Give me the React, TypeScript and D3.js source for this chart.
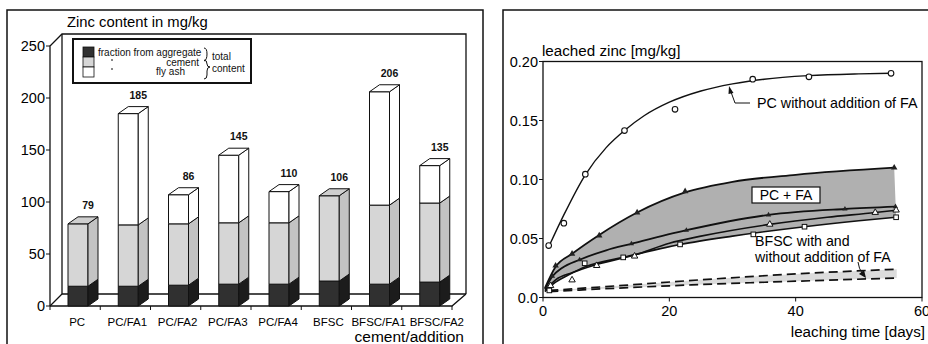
import React from 'react';
import * as d3 from 'd3';

// left chart: zinc content per cement / addition (mg/kg)
const categories = ['PC', 'PC/FA1', 'PC/FA2', 'PC/FA3', 'PC/FA4', 'BFSC', 'BFSC/FA1', 'BFSC/FA2'];
const aggregate = [19, 19, 20, 21, 21, 24, 21, 23];
const cement = [60, 59, 59, 59, 59, 82, 76, 76];
const flyAsh = [0, 107, 28, 65, 30, 0, 109, 36];
const totalLabels = ['79', '185', '86', '145', '110', '106', '206', '135'];
const zincTicks = [0, 50, 100, 150, 200, 250];

// right chart: leached zinc [mg/kg] vs leaching time [days]
type Pt = [number, number];
const pcCurve: Pt[] = [[1, 0.044], [3.3, 0.07], [6.7, 0.104], [10, 0.127], [12.9, 0.1415], [16, 0.154], [20, 0.1655], [25, 0.175], [30, 0.181], [35, 0.185], [42, 0.188], [50, 0.1895], [55.1, 0.19]];
const pcPoints: Pt[] = [[0.9, 0.044], [3.3, 0.063], [6.7, 0.1045], [12.9, 0.1415], [20.9, 0.1595], [33.2, 0.185], [42.1, 0.187], [55.1, 0.19]];
const fa1Curve: Pt[] = [[0.3, 0.008], [2, 0.026], [4.6, 0.037], [8.9, 0.053], [14.9, 0.072], [22.5, 0.089], [30, 0.098], [40, 0.104], [55.6, 0.11]];
const fa1Points: Pt[] = [[2, 0.027], [4.6, 0.037], [8.9, 0.0525], [14.9, 0.072], [22.5, 0.09], [55.6, 0.11]];
const fa2Curve: Pt[] = [[0.3, 0.007], [1.5, 0.018], [3, 0.025], [5.8, 0.032], [10, 0.04], [14, 0.0455], [22.7, 0.057], [35.7, 0.07], [47.8, 0.075], [55.8, 0.077]];
const fa2Points: Pt[] = [[1.5, 0.018], [5.8, 0.032], [14, 0.0455], [22.7, 0.057], [35.7, 0.07], [47.8, 0.075], [55.8, 0.077]];
const fa3Curve: Pt[] = [[0.3, 0.006], [2, 0.015], [4.6, 0.021], [8.5, 0.028], [14.5, 0.036], [20, 0.046], [25, 0.052], [35.9, 0.062], [45, 0.068], [52.6, 0.072], [55.9, 0.074]];
const fa3Points: Pt[] = [[1.2, 0.01], [4.6, 0.0148], [8.5, 0.027], [14.5, 0.035], [35.9, 0.062], [52.6, 0.072], [55.9, 0.074]];
const fa4Curve: Pt[] = [[0.3, 0.005], [2, 0.013], [4, 0.019], [6.7, 0.026], [12.7, 0.034], [21.8, 0.045], [30, 0.052], [41.4, 0.06], [50, 0.065], [55.9, 0.068]];
const fa4Points: Pt[] = [[1, 0.006], [6.6, 0.029], [12.7, 0.034], [21.7, 0.045], [33.3, 0.0535], [41.4, 0.06], [55.9, 0.068]];
const bfscUpper: Pt[] = [[1, 0.006], [12, 0.01], [25, 0.015], [40, 0.02], [56, 0.024]];
const bfscLower: Pt[] = [[1, 0.005], [12, 0.008], [25, 0.011], [40, 0.0138], [56, 0.0165]];
const leachTicks = [0, 0.05, 0.1, 0.15, 0.2];
const leachTickLabels = ['0.0', '0.05', '0.10', '0.15', '0.20'];
const dayTicks = [0, 20, 40, 60];

const FONT = 'Liberation Sans, Arial, Helvetica, sans-serif';

const segFill: Record<string, [string, string]> = {
  aggregate: ['#303030', '#1c1c1c'],
  cement: ['#d6d6d6', '#c3c3c3'],
  flyAsh: ['#fff', '#fff'],
};

function BarPanel() {
  const x = d3.scaleBand().domain(categories).range([50, 452]);
  const y = d3.scaleLinear().domain([0, 250]).range([306, 46]);
  const wdx = 12, wdy = -12; // back wall offset
  const bdx = 10, bdy = -7; // bar depth
  const barW = 20;
  const keys = ['aggregate', 'cement', 'flyAsh'];
  const rows = categories.map((c, i) => ({ cat: c, aggregate: aggregate[i], cement: cement[i], flyAsh: flyAsh[i] }));
  const series = d3.stack<any>().keys(keys)(rows);
  const x0 = x.range()[0], x1 = x.range()[1];
  const yTop = y(250), yBase = y(0);

  // category labels: centred under bars, pushed apart when they would touch
  const catSize = 11.5;
  let prevRight = -Infinity;
  const catPos = categories.map(c => {
    const w = c.length * catSize * 0.6;
    let cx = (x(c) as number) + x.bandwidth() / 2 + 2;
    if (cx - w / 2 < prevRight + 3) cx = prevRight + 3 + w / 2;
    prevRight = cx + w / 2;
    return cx;
  });

  return (
    <g fontFamily={FONT}>
      <rect x={7} y={10} width={476} height={345} fill="none" stroke="#111" strokeWidth={1.5} />
      <text x={67} y={27} fontSize={14.8}>Zinc content in mg/kg</text>

      {/* 3d frame */}
      <g fill="none" stroke="#111" strokeWidth={1.3}>
        <path d={`M${x0},${yBase}V${yTop}L${x0 + wdx},${yTop + wdy}H${x1 + wdx + 2}V${yBase + wdy}`} />
        <path d={`M${x0 + wdx},${yTop + wdy}V${yBase + wdy}H${x1 + wdx + 2}`} />
        <path d={`M${x0},${yBase}L${x0 + wdx},${yBase + wdy}`} />
        <path d={`M${x0},${yBase}H${x1}L${x1 + wdx + 2},${yBase + wdy}`} />
      </g>
      {zincTicks.map(t => (
        <g key={t}>
          <line x1={x0 - 4} x2={x0} y1={y(t)} y2={y(t)} stroke="#111" />
          <text x={x0 - 5} y={y(t)} dy="0.35em" textAnchor="end" fontSize={14.5}>{t}</text>
        </g>
      ))}
      {d3.range(categories.length + 1).map(i => (
        <line key={i} x1={x0 + i * x.step()} x2={x0 + i * x.step()} y1={yBase} y2={yBase + 4} stroke="#111" />
      ))}

      {/* bars */}
      {categories.map((c, i) => {
        const bx = (x(c) as number) + 18;
        const segs = series.filter(s => s[i][1] - s[i][0] > 0);
        const topKey = segs[segs.length - 1].key;
        const yt = y(segs[segs.length - 1][i][1]);
        return (
          <g key={c} stroke="#111" strokeWidth={1} strokeLinejoin="round">
            {segs.map(s => {
              const ya = y(s[i][1]), yb = y(s[i][0]);
              const [front, side] = segFill[s.key];
              return (
                <g key={s.key}>
                  <rect x={bx} y={ya} width={barW} height={yb - ya} fill={front} />
                  <polygon points={`${bx + barW},${ya} ${bx + barW + bdx},${ya + bdy} ${bx + barW + bdx},${yb + bdy} ${bx + barW},${yb}`} fill={side} />
                </g>
              );
            })}
            <polygon points={`${bx},${yt} ${bx + bdx},${yt + bdy} ${bx + barW + bdx},${yt + bdy} ${bx + barW},${yt}`} fill={topKey === 'flyAsh' ? '#fff' : '#cfcfcf'} />
            <text x={bx + barW} y={y(aggregate[i] + cement[i] + flyAsh[i]) - 18.5} dy="0.35em" textAnchor="middle" fontSize={10.5} fontWeight="bold" stroke="none" fill="#111">{totalLabels[i]}</text>
          </g>
        );
      })}

      {categories.map((c, i) => (
        <text key={c} x={catPos[i]} y={326} textAnchor="middle" fontSize={catSize}>{c}</text>
      ))}
      <text x={464} y={342} textAnchor="end" fontSize={15.5}>cement/addition</text>

      {/* legend */}
      <rect x={73} y={39} width={178} height={44} fill="#fff" stroke="#111" strokeWidth={2} />
      {keys.map((k, i) => (
        <rect key={k} x={83} y={47 + i * 10} width={11} height={10} fill={segFill[k][0]} stroke="#111" strokeWidth={0.8} />
      ))}
      <g fontSize={10} fill="#111">
        <text x={98} y={52.5} dy="0.35em">fraction from aggregate</text>
        <line x1={111} x2={113} y1={60} y2={60} stroke="#111" strokeWidth={1} />
        <line x1={111} x2={113} y1={69} y2={69} stroke="#111" strokeWidth={1} />
        <text x={199} y={62} dy="0.35em" textAnchor="end">cement</text>
        <text x={185} y={71.5} dy="0.35em" textAnchor="end">fly ash</text>
        <text x={212} y={56} dy="0.35em">total</text>
        <text x={212} y={68} dy="0.35em">content</text>
      </g>
      <g fill="none" stroke="#111" strokeWidth={1}>
        <path d="M204,48 Q207,48 207,54 Q207,60 204,61" />
        <path d="M204,60 Q207,60 207,64 Q207,67 210,67 Q207,67 207,71 L207,75 Q207,79 204,79" />
      </g>
    </g>
  );
}

function LeachPanel() {
  const x = d3.scaleLinear().domain([0, 60]).range([543, 922]);
  const y = d3.scaleLinear().domain([0, 0.2]).range([297.5, 61.5]);
  const line = d3.line<Pt>().x(d => x(d[0])).y(d => y(d[1])).curve(d3.curveMonotoneX);
  const band = (up: Pt[], lo: Pt[]) => `${line(up)}L${(line([...lo].reverse()) as string).slice(1)}Z`;
  const tri = d3.symbol(d3.symbolTriangle, 18)() as string;
  const triSmall = d3.symbol(d3.symbolTriangle, 12)() as string;
  const [xa, xb] = x.range();
  const [ya, yb] = y.range();

  return (
    <g fontFamily={FONT}>
      <rect x={503} y={10} width={440} height={345} fill="none" stroke="#111" strokeWidth={1.5} />
      <text x={542} y={56} fontSize={15.2}>leached zinc [mg/kg]</text>

      {/* shaded bands */}
      <path d={band(fa1Curve, fa4Curve)} fill="#b0b0b0" />
      <path d={band(bfscUpper, bfscLower)} fill="#dcdcdc" />

      <rect x={xa} y={yb} width={xb - xa} height={ya - yb} fill="none" stroke="#111" strokeWidth={1.3} />
      {leachTicks.map((t, i) => (
        <g key={t}>
          <line x1={xa - 4} x2={xa} y1={y(t)} y2={y(t)} stroke="#111" />
          <text x={xa - 5} y={y(t)} dy="0.35em" textAnchor="end" fontSize={14.5}>{leachTickLabels[i]}</text>
        </g>
      ))}
      {dayTicks.map(t => (
        <g key={t}>
          <line x1={x(t)} x2={x(t)} y1={ya} y2={ya + 4} stroke="#111" />
          <text x={x(t)} y={316} textAnchor="middle" fontSize={14.5}>{t}</text>
        </g>
      ))}
      <text x={925} y={337} textAnchor="end" fontSize={15.2}>leaching time [days]</text>

      <g fill="none" stroke="#111">
        <path d={line(pcCurve) as string} strokeWidth={1.4} />
        <path d={line(fa1Curve) as string} strokeWidth={1.8} />
        <path d={line(fa2Curve) as string} strokeWidth={1.8} />
        <path d={line(fa3Curve) as string} strokeWidth={1.6} />
        <path d={line(fa4Curve) as string} strokeWidth={1.6} />
        <path d={line(bfscUpper) as string} strokeWidth={1.7} strokeDasharray="9,5" />
        <path d={line(bfscLower) as string} strokeWidth={1.7} strokeDasharray="9,5" />
      </g>

      {/* markers */}
      {pcPoints.map((d, i) => (
        <circle key={'pc' + i} cx={x(d[0])} cy={y(d[1])} r={2.8} fill="#fff" stroke="#111" strokeWidth={1.1} />
      ))}
      {fa1Points.map((d, i) => (
        <path key={'a' + i} d={tri} transform={`translate(${x(d[0])},${y(d[1])})`} fill="#222" />
      ))}
      {fa2Points.map((d, i) => (
        <path key={'b' + i} d={triSmall} transform={`translate(${x(d[0])},${y(d[1])})`} fill="#222" />
      ))}
      {fa3Points.map((d, i) => (
        <path key={'c' + i} d={tri} transform={`translate(${x(d[0])},${y(d[1])})`} fill="#fff" stroke="#111" strokeWidth={1} />
      ))}
      {fa4Points.map((d, i) => (
        <rect key={'d' + i} x={x(d[0]) - 2.3} y={y(d[1]) - 2.3} width={4.6} height={4.6} fill="#fff" stroke="#111" strokeWidth={1} />
      ))}

      {/* annotations */}
      <path d="M750,103H735L731,92" fill="none" stroke="#111" strokeWidth={1} />
      <polygon points="729,86 733.5,93 728.5,94" fill="#111" />
      <text x={757} y={103} dy="0.35em" fontSize={14.3}>PC without addition of FA</text>
      <rect x={752} y={187} width={68} height={16} fill="#fff" stroke="#111" strokeWidth={1.2} />
      <text x={786} y={195} dy="0.35em" textAnchor="middle" fontSize={14}>PC + FA</text>
      <text x={755} y={241} dy="0.35em" fontSize={14.2}>BFSC with and</text>
      <text x={755} y={257} dy="0.35em" fontSize={14.2}>without addition of FA</text>
      <path d="M858,262Q859,269 862,273" fill="none" stroke="#111" strokeWidth={1} />
      <polygon points="866,278 859,274 864,270" fill="#111" />
    </g>
  );
}

export default function App() {
  return (
    <svg width={928} height={344} style={{ position: 'absolute', left: 0, top: 0, background: '#fff' }}>
      <rect width={928} height={344} fill="#fff" />
      <BarPanel />
      <LeachPanel />
    </svg>
  );
}
